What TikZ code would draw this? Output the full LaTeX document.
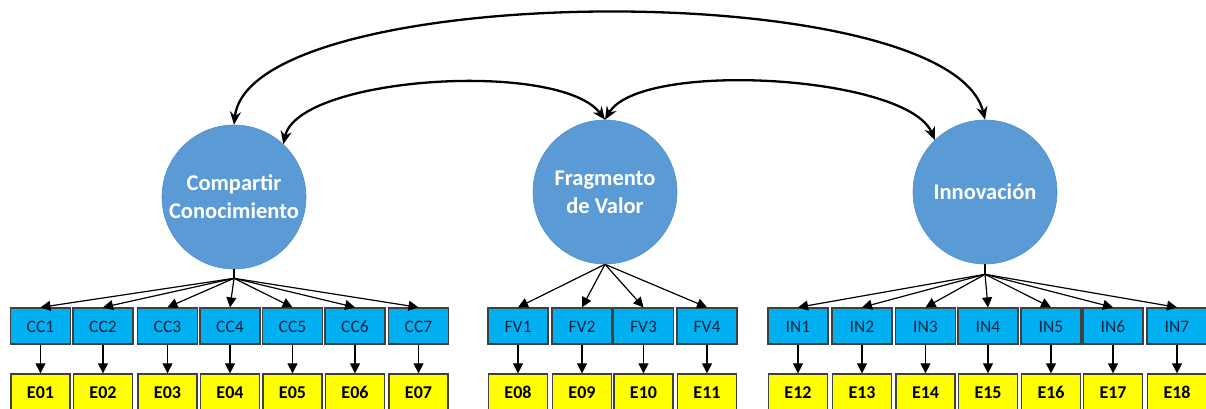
\documentclass[tikz,border=0pt]{standalone}
\usepackage{fontspec}
\setmainfont{Carlito}
\usetikzlibrary{arrows.meta,calc}
\definecolor{latentblue}{RGB}{91,155,213}
\definecolor{latentedge}{RGB}{82,143,204}
\definecolor{itemcyan}{RGB}{0,176,240}
\definecolor{erroryellow}{RGB}{255,255,0}
\definecolor{boxedge}{RGB}{64,64,64}
\definecolor{itemtext}{RGB}{16,36,64}
\tikzset{
  latent/.style={circle, minimum size=144pt, inner sep=0pt, fill=latentblue,
    draw=latentedge, line width=0.6pt, text=white, align=center,
    font=\fontsize{22.5}{28}\selectfont\bfseries},
  item/.style={rectangle, minimum width=60pt, minimum height=36pt, inner sep=0pt,
    fill=itemcyan, draw=boxedge, line width=1.3pt, text=itemtext,
    text height=12pt, text depth=0pt,
    font=\fontsize{17.5}{20}\selectfont},
  errbox/.style={rectangle, minimum width=59pt, minimum height=36pt, inner sep=0pt,
    fill=erroryellow, draw=boxedge, line width=1.3pt, text=black,
    text height=12pt, text depth=0pt,
    font=\fontsize{18}{20}\selectfont\bfseries},
  load/.style={line width=1.2pt, -{Triangle[length=10pt,width=10pt]}},
  cov/.style={line width=2.3pt, {Stealth[length=13pt,width=11pt]}-{Stealth[length=13pt,width=11pt]}},
}
\begin{document}
\begin{tikzpicture}[x=1pt,y=-1pt]
\useasboundingbox (0,0) rectangle (1206,408);
\clip (0,0) rectangle (1206,408);

% latent factors
\node[latent] (cc) at (234,197) {Compartir\\Conocimiento};
\node[latent] (fv) at (605,192) {Fragmento\\de Valor};
\node[latent] (in) at (985,192) {Innovación};

% hubs where the loading fans start
\coordinate (cchub) at ($(cc.south)+(0,9)$);
\coordinate (inhub) at ($(in.south)+(0,10)$);
\draw[line width=1.2pt] (cc.south) -- (cchub);
\draw[line width=1.2pt] (in.south) -- (inhub);

% Compartir Conocimiento indicators
\foreach \i/\x/\e in {1/40.5/E01,2/103/E02,3/167.5/E03,4/230/E04,5/292.5/E05,6/355/E06,7/418.5/E07}{
  \node[item] (cc\i) at (\x,326) {CC\i};
  \node[errbox] (ecc\i) at (\x,392) {\e};
  \draw[load] (cchub) -- (cc\i.north);
  \draw[load] (cc\i.south) -- (ecc\i.north);
}

% Fragmento de Valor indicators
\foreach \i/\x/\e in {1/518/E08,2/582/E09,3/643.5/E10,4/707/E11}{
  \node[item] (fv\i) at (\x,326) {FV\i};
  \node[errbox] (efv\i) at (\x,392) {\e};
  \draw[load] (fv.south) -- (fv\i.north);
  \draw[load] (fv\i.south) -- (efv\i.north);
}

% Innovacion indicators
\foreach \i/\x/\e in {1/798/E12,2/862/E13,3/925.5/E14,4/988/E15,5/1051/E16,6/1113/E17,7/1177/E18}{
  \node[item] (in\i) at (\x,326) {IN\i};
  \node[errbox] (ein\i) at (\x,392) {\e};
  \draw[load] (inhub) -- (in\i.north);
  \draw[load] (in\i.south) -- (ein\i.north);
}

% covariances between factors
\draw[cov] (cc.north) .. controls +(16,-145) and +(-35,-145) .. (in.north);
\draw[cov] (cc.47) .. controls +(15,-68) and +(-45,-60) .. (fv.north);
\draw[cov] (fv.north) .. controls +(35,-60) and +(-27,-65) .. (in.134);
\end{tikzpicture}
\end{document}
